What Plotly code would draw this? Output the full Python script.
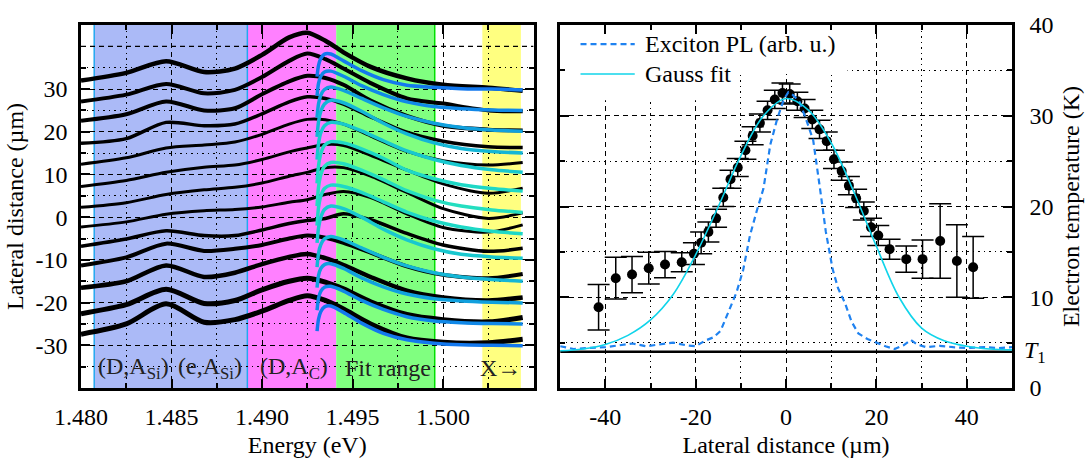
import plotly.graph_objects as go

# ---------------- LEFT PANEL DATA: PL spectra (offset by lateral distance) ----------------
energy_pts = [1.4800, 1.4825, 1.4847, 1.4868, 1.4885, 1.4900, 1.4915, 1.4925,
              1.4935, 1.4945, 1.4960, 1.4980, 1.5000, 1.5025, 1.5044]

spec_p30 = [32.0, 33.8, 36.5, 34.0, 34.8, 38.0, 42.1, 43.2, 41.3, 38.6, 35.2, 32.5, 31.0, 30.3, 29.6]
spec_p25 = [27.1, 28.7, 31.2, 29.0, 29.8, 32.8, 36.6, 38.3, 37.0, 34.8, 31.4, 27.8, 26.6, 25.0, 24.8]
spec_p20 = [22.6, 24.1, 27.1, 25.0, 25.5, 28.8, 31.8, 33.1, 32.6, 31.0, 27.3, 23.7, 21.4, 20.5, 20.3]
spec_p15 = [17.3, 18.4, 22.2, 21.4, 21.8, 24.2, 27.0, 28.2, 27.8, 26.5, 23.5, 19.9, 17.8, 16.5, 16.3]
spec_p10 = [12.4, 13.9, 16.2, 16.9, 17.6, 19.4, 21.8, 22.9, 22.8, 21.8, 19.0, 15.4, 13.2, 12.2, 12.8]
spec_p05 = [7.2, 8.6, 10.5, 11.7, 12.2, 13.5, 15.3, 16.2, 17.0, 16.8, 14.5, 11.0, 7.8, 5.6, 6.8]
spec_000 = [2.3, 3.4, 5.3, 6.4, 7.0, 8.0, 9.6, 10.5, 11.6, 11.6, 9.6, 5.8, 2.0, -0.3, 1.0]
spec_m05 = [-2.3, -1.1, 0.7, 1.5, 1.8, 2.4, 3.5, 4.1, 5.3, 6.0, 4.6, 0.8, -2.4, -3.5, -1.8]
spec_m10 = [-6.8, -5.1, -3.2, -4.3, -4.3, -3.0, -1.5, -0.8, -0.3, 0.8, -0.6, -3.8, -6.5, -8.0, -7.3]
spec_m15 = [-11.3, -9.4, -6.2, -7.9, -7.4, -6.5, -5.0, -4.3, -4.8, -6.0, -8.3, -11.5, -13.5, -14.3, -13.3]
spec_m20 = [-16.5, -15.0, -11.3, -14.0, -13.0, -11.0, -9.3, -8.6, -9.6, -11.2, -14.0, -17.2, -18.8, -19.5, -18.8]
spec_m25 = [-22.6, -20.5, -16.9, -20.2, -19.5, -17.0, -15.0, -14.3, -15.2, -16.8, -19.8, -22.8, -24.0, -24.5, -23.5]
spec_m30 = [-27.4, -25.0, -20.3, -24.6, -24.0, -22.0, -19.5, -18.4, -19.5, -21.5, -25.0, -28.3, -29.3, -29.4, -28.6]

spectra = [spec_p30, spec_p25, spec_p20, spec_p15, spec_p10, spec_p05, spec_000,
           spec_m05, spec_m10, spec_m15, spec_m20, spec_m25, spec_m30]

# Fits (high-energy tail fits)
fit_energy = [1.49304, 1.49312, 1.49325, 1.49345, 1.4938, 1.4945, 1.4955,
              1.4967, 1.4980, 1.4995, 1.5010, 1.5027, 1.5044]

fit_p30 = [32.9, 35.5, 37.2, 38.2, 38.2, 36.6, 34.3, 32.2, 30.9, 30.4, 30.1, 30.0, 29.8]
fit_p25 = [28.4, 31.3, 33.0, 34.0, 34.2, 33.0, 30.8, 28.7, 27.0, 25.9, 25.4, 25.1, 25.0]
fit_p20 = [23.3, 26.5, 28.6, 29.9, 30.5, 29.7, 27.8, 25.6, 23.6, 22.0, 21.0, 20.4, 20.1]
fit_p15 = [18.8, 22.3, 24.8, 26.5, 27.4, 26.8, 24.8, 22.0, 19.5, 17.4, 16.1, 15.4, 15.0]
fit_p10 = [13.5, 17.2, 19.8, 21.4, 22.2, 21.8, 20.2, 17.9, 15.5, 13.5, 12.1, 11.1, 10.5]
fit_p05 = [7.9, 12.0, 14.9, 16.8, 17.7, 17.4, 16.0, 13.8, 11.0, 9.0, 7.6, 6.7, 6.1]
fit_000 = [2.6, 7.0, 10.0, 11.9, 12.8, 12.5, 11.0, 8.8, 6.2, 4.0, 2.6, 1.7, 1.1]
fit_m05 = [-2.0, 2.2, 5.0, 6.7, 7.5, 7.2, 5.8, 3.6, 1.2, -0.9, -2.3, -3.3, -3.9]
fit_m10 = [-6.0, -2.6, 0.0, 1.8, 2.6, 2.0, 0.0, -2.8, -5.3, -7.4, -8.7, -9.3, -9.6]
fit_m15 = [-11.7, -8.5, -6.4, -5.1, -4.5, -5.3, -7.2, -9.4, -11.4, -13.0, -14.0, -14.6, -15.0]
fit_m20 = [-16.5, -13.7, -12.0, -11.1, -10.9, -12.0, -14.2, -16.3, -18.0, -19.1, -19.6, -19.9, -20.1]
fit_m25 = [-21.8, -19.0, -17.3, -16.4, -16.2, -17.3, -19.5, -21.6, -23.3, -24.3, -24.7, -24.9, -25.0]
fit_m30 = [-26.7, -23.9, -22.1, -21.0, -20.8, -22.3, -24.8, -27.2, -28.7, -29.5, -29.9, -30.0, -30.1]

fits = [fit_p30, fit_p25, fit_p20, fit_p15, fit_p10, fit_p05, fit_000,
        fit_m05, fit_m10, fit_m15, fit_m20, fit_m25, fit_m30]

# spectral regions (eV)
band_lo = [1.48073, 1.48919, 1.49410, 1.50217]
band_hi = [1.48919, 1.49410, 1.49954, 1.50430]
label_text = ["(D,A<sub>Si</sub>)", "(e,A<sub>Si</sub>)", "(D,A<sub>C</sub>)", "Fit range", "X\u2192"]
label_energy = [1.48290, 1.48712, 1.49176, 1.49698, 1.50319]
label_level = -35.3

# ---------------- RIGHT PANEL DATA ----------------
te_x = [-41.5, -37.7, -34.1, -30.4, -26.8, -23.1, -20.4, -18.8, -17.2, -15.5, -13.9, -12.3,
        -10.7, -9.0, -7.4, -5.8, -4.1, -2.5, -0.8, 0.8, 2.5, 4.1, 5.8, 7.4, 9.0, 10.6,
        12.3, 13.9, 15.5, 17.2, 18.8, 20.4, 22.9, 26.6, 30.2, 34.1, 37.8, 41.4]
te_y = [8.9, 12.1, 12.5, 13.2, 13.6, 13.85, 14.8, 16.0, 17.2, 18.7, 21.0, 23.0,
        24.3, 26.2, 27.8, 29.2, 30.6, 31.8, 32.5, 32.4, 31.6, 30.8, 29.6, 28.5, 27.2, 25.2,
        23.9, 22.3, 20.9, 19.5, 17.7, 16.8, 15.3, 14.2, 14.2, 16.2, 14.0, 13.3]
te_err = [2.5, 2.3, 2.0, 1.75, 1.45, 1.05, 1.2, 1.2, 1.1, 1.0, 1.0, 1.0,
          1.0, 1.0, 1.0, 1.0, 1.0, 1.0, 1.1, 1.1, 1.0, 1.0, 1.0, 1.0, 1.0, 1.0,
          1.0, 1.0, 1.0, 1.0, 1.0, 1.1, 1.1, 1.45, 2.1, 4.1, 4.0, 3.4]

pl_x = [-50, -47, -44, -40, -37, -34, -31, -28, -25, -22, -20, -18, -16, -14.5, -13.5,
        -12.5, -11, -9.5, -8, -6.5, -5, -3.5, -2, -0.5, 0.5, 1.5, 3, 4.5, 6, 7.5, 8.8,
        10.3, 11.5, 13, 14.5, 16, 18, 20, 22, 24, 26, 27.6, 29, 31, 34, 37, 40, 44, 47, 50]
pl_y = [4.6, 4.3, 4.4, 4.5, 4.7, 4.9, 4.6, 4.8, 5.0, 4.7, 4.6, 5.2, 5.6, 6.3, 7.5,
        8.7, 10.5, 13.0, 16.8, 19.5, 22.0, 26.8, 29.6, 31.8, 32.6, 32.3, 31.5, 29.5, 27.3, 22.0, 17.2,
        13.1, 11.0, 9.4, 7.3, 6.0, 5.4, 5.0, 4.6, 4.3, 4.7, 5.3, 4.8, 4.5, 4.65, 4.5, 4.4, 4.5, 4.4, 4.5]

gauss_x = [-50, -45, -40, -35, -30, -25, -20, -15, -10, -5, 0, 5, 10, 15, 20, 25, 30, 35, 40, 45, 50]
gauss_y = [4.1, 4.3, 4.8, 5.8, 7.5, 10.3, 14.7, 20.0, 25.6, 30.0, 31.9, 30.6, 27.0, 21.6, 15.6,
           10.0, 6.6, 5.2, 4.6, 4.3, 4.2]

t1_level = 4.0

# ---------------- STYLE ----------------
FONT = "Times New Roman, Liberation Serif, DejaVu Serif, serif"
FS = 24
band_colors = ["#abbaf7", "#ff80ff", "#80ff80", "#ffff80"]
fit_colors = ["#1378ee", "#1088e8", "#10a0de", "#14b6d6", "#18c8cf", "#1ed8c6", "#24dec0",
              "#1ed8c6", "#18c8cf", "#14b6d6", "#10a0de", "#1088e8", "#1378ee"]
spec_widths = [4.5, 4, 4, 3.5, 3, 3, 3, 3, 3.5, 4, 4.5, 5, 5]

fig = go.Figure()

for spec, w in zip(spectra, spec_widths):
    fig.add_trace(go.Scatter(x=energy_pts, y=spec, mode="lines",
                             line=dict(color="black", width=w, shape="spline", smoothing=0.8),
                             showlegend=False, hoverinfo="skip", xaxis="x", yaxis="y"))
for fit, c in zip(fits, fit_colors):
    fig.add_trace(go.Scatter(x=fit_energy, y=fit, mode="lines",
                             line=dict(color=c, width=3.5, shape="spline", smoothing=0.7),
                             showlegend=False, hoverinfo="skip", xaxis="x", yaxis="y"))

# right panel
fig.add_trace(go.Scatter(x=[-50, 50], y=[t1_level, t1_level], mode="lines",
                         line=dict(color="black", width=2.5), showlegend=False,
                         hoverinfo="skip", xaxis="x2", yaxis="y2"))
fig.add_trace(go.Scatter(x=te_x, y=te_y, mode="markers",
                         marker=dict(color="black", size=10),
                         error_y=dict(type="data", array=te_err, color="black", thickness=1.5, width=11),
                         showlegend=False, xaxis="x2", yaxis="y2"))
fig.add_trace(go.Scatter(x=pl_x, y=pl_y, mode="lines",
                         line=dict(color="#1f82f0", width=2.2, dash="6px,4px"),
                         showlegend=False, xaxis="x2", yaxis="y2"))
fig.add_trace(go.Scatter(x=gauss_x, y=gauss_y, mode="lines",
                         line=dict(color="#10d4ea", width=1.6, shape="spline", smoothing=1.0),
                         showlegend=False, xaxis="x2", yaxis="y2"))

shapes = []
for lo, hi, col in zip(band_lo, band_hi, band_colors):
    shapes.append(dict(type="rect", xref="x", yref="y domain", x0=lo, x1=hi, y0=0, y1=1,
                       fillcolor=col, line=dict(width=0), layer="below"))
for xe in [band_lo[0], band_hi[0]]:
    shapes.append(dict(type="line", xref="x", yref="y domain", x0=xe, x1=xe, y0=0, y1=1,
                       line=dict(color="#22a8f0", width=1.5), layer="below"))
shapes.append(dict(type="line", xref="x", yref="y domain", x0=band_hi[2], x1=band_hi[2], y0=0, y1=1,
                   line=dict(color="#00e000", width=1.5), layer="below"))
# dashed grid line at the unlabelled 40 µm tick
shapes.append(dict(type="line", xref="x", yref="y", x0=1.480, x1=1.505, y0=40, y1=40,
                   line=dict(color="black", width=1.4, dash="5px,4px"), layer="between"))

# key (legend) boxes and samples in right panel
shapes.append(dict(type="rect", xref="x2", yref="y2", x0=-50, x1=13.6, y0=34.6, y1=40,
                   fillcolor="white", line=dict(width=0), layer="between"))
shapes.append(dict(type="rect", xref="x2", yref="y2", x0=-50, x1=-11.1, y0=31.7, y1=34.6,
                   fillcolor="white", line=dict(width=0), layer="between"))
shapes.append(dict(type="line", xref="x2", yref="y2", x0=-45.5, x1=-33.5, y0=37.9, y1=37.9,
                   line=dict(color="#1f82f0", width=2.2, dash="6px,4px")))
shapes.append(dict(type="line", xref="x2", yref="y2", x0=-45.5, x1=-33.5, y0=34.6, y1=34.6,
                   line=dict(color="#10d4ea", width=1.6)))

annotations = []
for t, e in zip(label_text, label_energy):
    annotations.append(dict(x=e, y=label_level, xref="x", yref="y", text=t, showarrow=False,
                            font=dict(family=FONT, size=FS, color="#222222")))
annotations.append(dict(x=-31.7, y=37.9, xref="x2", yref="y2", text="Exciton PL (arb. u.)",
                        showarrow=False, xanchor="left", font=dict(family=FONT, size=FS, color="black")))
annotations.append(dict(x=-31.7, y=34.6, xref="x2", yref="y2", text="Gauss fit",
                        showarrow=False, xanchor="left", font=dict(family=FONT, size=FS, color="black")))
annotations.append(dict(x=1.011, y=t1_level, xref="paper", yref="y2", text="<i>T</i><sub>1</sub>",
                        showarrow=False, xanchor="left", font=dict(family=FONT, size=FS, color="black")))


def axis_style(**kw):
    d = dict(showline=True, linecolor="black", linewidth=2.5, mirror="ticks",
             ticks="inside", ticklen=9, tickwidth=2, tickcolor="black",
             showgrid=True, gridcolor="black", gridwidth=1.4, griddash="5px,4px",
             zeroline=False, tickfont=dict(family=FONT, size=FS, color="black"),
             title_font=dict(family=FONT, size=FS, color="black"))
    d.update(kw)
    return d


def minor_style(vals):
    return dict(tickmode="array", tickvals=vals, ticks="inside", ticklen=5, tickwidth=2,
                tickcolor="black", showgrid=True, gridcolor="black", gridwidth=1.2,
                griddash="1.5px,4px")


e_ticks = [1.480, 1.485, 1.490, 1.495, 1.500]
e_ticktext = ["1.480", "1.485", "1.490", "1.495", "1.500"]
e_minor = [1.4825, 1.4875, 1.4925, 1.4975, 1.5025]
ld_ticks = [-30, -20, -10, 0, 10, 20, 30]
ld_ticktext = ["-30", "-20", "-10", "0", "10", "20", "30"]
ld_minor = [-35, -25, -15, -5, 5, 15, 25, 35]
lat_ticks = [-40, -20, 0, 20, 40]
lat_ticktext = ["-40", "-20", "0", "20", "40"]
lat_minor = [-30, -10, 10, 30]
te_ticks = [0, 10, 20, 30, 40]
te_minor = [5, 15, 25, 35]

fig.update_layout(
    width=1092, height=466,
    margin=dict(l=81, r=77, t=20, b=68),
    paper_bgcolor="white", plot_bgcolor="white",
    showlegend=False,
    font=dict(family=FONT, size=FS, color="black"),
    xaxis=axis_style(domain=[0, 0.4861], range=[1.480, 1.505], anchor="y",
                     tickmode="array", tickvals=e_ticks, ticktext=e_ticktext,
                     minor=minor_style(e_minor), ticklabelstandoff=5,
                     title=dict(text="Energy (eV)", standoff=8)),
    yaxis=axis_style(range=[-40, 45], anchor="x",
                     tickmode="array", tickvals=ld_ticks, ticktext=ld_ticktext,
                     minor=minor_style(ld_minor), ticklabelstandoff=6,
                     title=dict(text="Lateral distance (\u00b5m)", standoff=6)),
    xaxis2=axis_style(domain=[0.5147, 1], range=[-50, 50], anchor="y2",
                      tickmode="array", tickvals=lat_ticks, ticktext=lat_ticktext,
                      minor=minor_style(lat_minor), ticklabelstandoff=5,
                      title=dict(text="Lateral distance (\u00b5m)", standoff=8)),
    yaxis2=axis_style(range=[0, 40], anchor="x2", side="right",
                      tickmode="array", tickvals=te_ticks, ticktext=[str(v) for v in te_ticks],
                      minor=minor_style(te_minor), ticklabelstandoff=10,
                      title=dict(text="Electron temperature (K)", standoff=10)),
    shapes=shapes,
    annotations=annotations,
)

fig.write_html("out.html")
